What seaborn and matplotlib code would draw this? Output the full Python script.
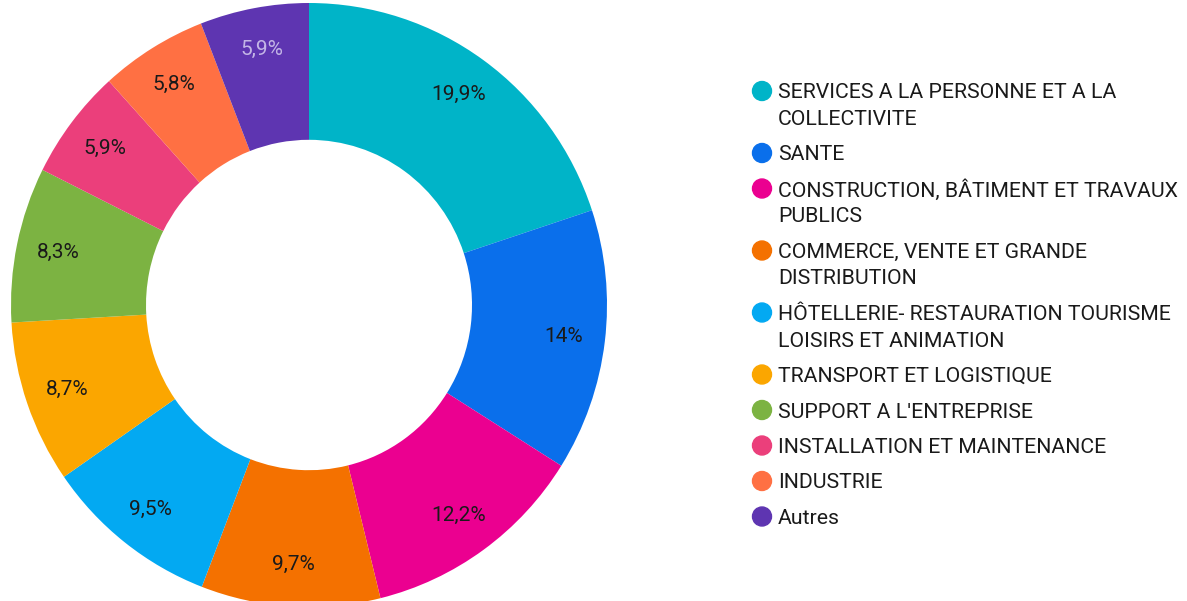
import matplotlib
matplotlib.use("Agg")
import matplotlib.pyplot as plt
from matplotlib.patches import Ellipse
import seaborn as sns

# Répartition des offres par secteur
categories = [
    "SERVICES A LA PERSONNE ET A LA\nCOLLECTIVITE",
    "SANTE",
    "CONSTRUCTION, BÂTIMENT ET TRAVAUX\nPUBLICS",
    "COMMERCE, VENTE ET GRANDE\nDISTRIBUTION",
    "HÔTELLERIE- RESTAURATION TOURISME\nLOISIRS ET ANIMATION",
    "TRANSPORT ET LOGISTIQUE",
    "SUPPORT A L'ENTREPRISE",
    "INSTALLATION ET MAINTENANCE",
    "INDUSTRIE",
    "Autres",
]
shares = [19.9, 14.0, 12.2, 9.7, 9.5, 8.7, 8.3, 5.9, 5.8, 5.9]
colors = ["#00B4C8", "#0A6FEB", "#EB0090", "#F47100", "#03A9F2",
          "#FBA600", "#7CB342", "#EB3F7B", "#FF7043", "#5E35B1"]
label_colors = ["#1a1a1a"] * 9 + ["#C3B5E6"]

sns.set_theme(style="white")
plt.rcParams["font.family"] = ["Roboto", "DejaVu Sans"]

fig = plt.figure(figsize=(11.87, 6.01), dpi=100)
fig.patch.set_facecolor("white")

W, H = 1187, 601
cx, cy, rx, ry = 309, 305, 298, 302
ax = fig.add_axes([(cx - rx) / W, 1 - (cy + ry) / H, 2 * rx / W, 2 * ry / H])

inner = 0.547
wedges, _, autotexts = ax.pie(
    shares, colors=colors, startangle=90, counterclock=False, radius=1,
    wedgeprops=dict(width=1 - inner, linewidth=0),
    autopct="%1.1f", pctdistance=0.86,
)
for t, v, c in zip(autotexts, shares, label_colors):
    t.set_text(f"{v:g}".replace(".", ",") + "%")
    t.set_color(c)
    t.set_fontsize(15)
ax.set_aspect("auto")
ax.set_xlim(-1, 1)
ax.set_ylim(-1, 1)
ax.axis("off")

# Légende
x_dot, x_txt = 762 / W, 778 / W
y = 91
line_step, entry_gap = 26.5, 35.5
for lab, col in zip(categories, colors):
    lines = lab.split("\n")
    fig.patches.append(Ellipse(
        (x_dot, 1 - y / H), 19 / W, 19 / H, transform=fig.transFigure,
        color=col, figure=fig))
    for i, ln in enumerate(lines):
        fig.text(x_txt, 1 - (y + i * line_step) / H, ln, fontsize=15.3,
                 color="#1a1a1a", va="center_baseline", ha="left")
    y += (len(lines) - 1) * line_step + entry_gap

fig.savefig("out.png", dpi=100, facecolor="white")
